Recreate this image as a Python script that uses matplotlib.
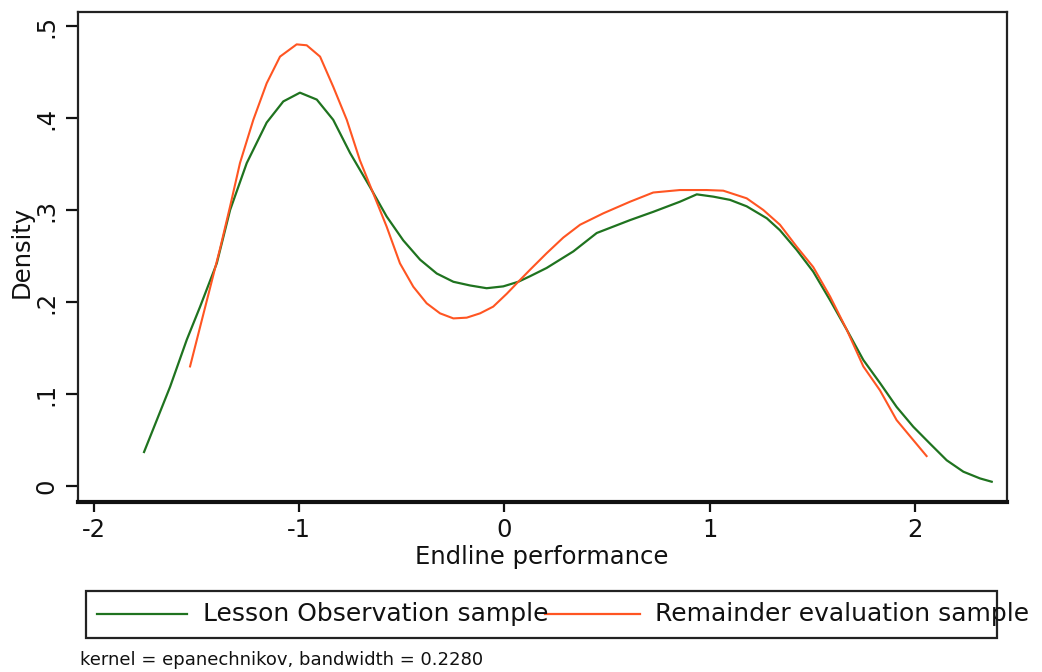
import matplotlib
matplotlib.use('Agg')
import matplotlib.pyplot as plt
from matplotlib.patches import Rectangle
from matplotlib.lines import Line2D

plt.rcParams['font.family'] = ['DejaVu Sans']

# ---- data (kernel density estimates) ----
lesson_x = [-1.754, -1.627, -1.546, -1.481, -1.400, -1.335, -1.254, -1.157, -1.076,
            -0.995, -0.913, -0.833, -0.751, -0.654, -0.573, -0.492, -0.410, -0.329,
            -0.248, -0.167, -0.086, -0.005, 0.068, 0.125, 0.206, 0.336, 0.450, 0.612,
            0.725, 0.855, 0.937, 1.018, 1.099, 1.180, 1.278, 1.342, 1.424, 1.504,
            1.586, 1.667, 1.748, 1.829, 1.910, 1.991, 2.073, 2.154, 2.235, 2.316, 2.373]
lesson_y = [0.037, 0.108, 0.159, 0.195, 0.242, 0.300, 0.351, 0.395, 0.418,
            0.4275, 0.420, 0.398, 0.362, 0.325, 0.293, 0.267, 0.246, 0.231,
            0.222, 0.218, 0.215, 0.217, 0.222, 0.228, 0.237, 0.255, 0.275, 0.289,
            0.298, 0.309, 0.317, 0.3145, 0.311, 0.304, 0.291, 0.278, 0.2565, 0.233,
            0.202, 0.170, 0.137, 0.112, 0.086, 0.0645, 0.046, 0.028, 0.0156, 0.0083, 0.0047]

remain_x = [-1.530, -1.481, -1.433, -1.384, -1.335, -1.287, -1.222, -1.157, -1.092,
            -1.011, -0.962, -0.897, -0.833, -0.767, -0.703, -0.638, -0.573, -0.508,
            -0.443, -0.378, -0.313, -0.248, -0.183, -0.118, -0.054, 0.012, 0.068,
            0.125, 0.206, 0.287, 0.369, 0.482, 0.612, 0.725, 0.855, 0.985, 1.066,
            1.180, 1.261, 1.342, 1.424, 1.504, 1.586, 1.667, 1.748, 1.829, 1.910,
            1.991, 2.056]
remain_y = [0.130, 0.173, 0.215, 0.258, 0.304, 0.351, 0.398, 0.4377, 0.4667,
            0.480, 0.479, 0.4667, 0.434, 0.398, 0.354, 0.318, 0.282, 0.242,
            0.2166, 0.1986, 0.1877, 0.1822, 0.183, 0.1877, 0.195, 0.209, 0.222,
            0.235, 0.253, 0.270, 0.284, 0.2964, 0.309, 0.319, 0.3217, 0.3217, 0.321,
            0.3127, 0.300, 0.284, 0.260, 0.238, 0.206, 0.170, 0.130, 0.104, 0.0717,
            0.050, 0.0326]

x_ticks = [-2, -1, 0, 1, 2]
x_labels = ['-2', '-1', '0', '1', '2']
y_ticks = [0, 0.1, 0.2, 0.3, 0.4, 0.5]
y_labels = ['0', '.1', '.2', '.3', '.4', '.5']

series_names = ['Lesson Observation sample', 'Remainder evaluation sample']
series_colors = ['#1f731f', '#ff5522']
note = 'kernel = epanechnikov, bandwidth = 0.2280'

W, H = 1042, 672


def fx(px):
    return px / W


def fy(py):
    return 1 - py / H


fig = plt.figure(figsize=(W / 100, H / 100), dpi=100, facecolor='white')
ax = fig.add_axes([fx(77.5), fy(501.7), fx(1006.7) - fx(77.5), fy(11.7) - fy(501.7)])

ax.plot(lesson_x, lesson_y, color=series_colors[0], linewidth=1.6)
ax.plot(remain_x, remain_y, color=series_colors[1], linewidth=1.5)

ax.set_xlim(-2.078, 2.446)
ax.set_ylim(-0.017, 0.5155)

ax.set_xticks(x_ticks)
ax.set_xticklabels(x_labels, fontsize=17.5)
ax.set_yticks(y_ticks)
ax.set_yticklabels(y_labels, fontsize=17.5, rotation=90, va='center')

ax.tick_params(axis='x', direction='out', length=7.5, width=1.6, pad=4, colors='#111111')
ax.tick_params(axis='y', direction='out', length=8.5, width=1.6, pad=5, colors='#111111')

for s in ax.spines.values():
    s.set_linewidth(1.6)
    s.set_color('#222222')
ax.spines['bottom'].set_linewidth(3.0)
ax.spines['bottom'].set_color('#111111')

ax.set_xlabel('Endline performance', fontsize=17.5, color='#111111')
ax.xaxis.label.set_va('center')
ax.xaxis.set_label_coords(0.5, (501.7 - 557) / 490)
ax.set_ylabel('Density', fontsize=17.5, color='#111111')
ax.yaxis.label.set_va('center')
ax.yaxis.set_label_coords((22 - 77.5) / 929.2, 0.51)

# ---- legend box (Stata style, text spills past the right edge) ----
fig.add_artist(Rectangle((fx(85.7), fy(638)), fx(997) - fx(85.7), fy(591) - fy(638),
                         transform=fig.transFigure, fill=False,
                         edgecolor='#222222', linewidth=1.6))
ly = fy(614)
key_spans = [(97, 187), (545, 640)]
text_x = [203, 655]
for (a, b), tx, name, col in zip(key_spans, text_x, series_names, series_colors):
    fig.add_artist(Line2D([fx(a), fx(b)], [ly, ly], transform=fig.transFigure,
                          color=col, linewidth=1.6))
    fig.text(fx(tx), ly, name, fontsize=18, va='center', ha='left', color='#111111')

fig.text(fx(80), fy(660), note, fontsize=13, va='center', ha='left', color='#111111')

fig.savefig('out.png', dpi=100, facecolor='white')
